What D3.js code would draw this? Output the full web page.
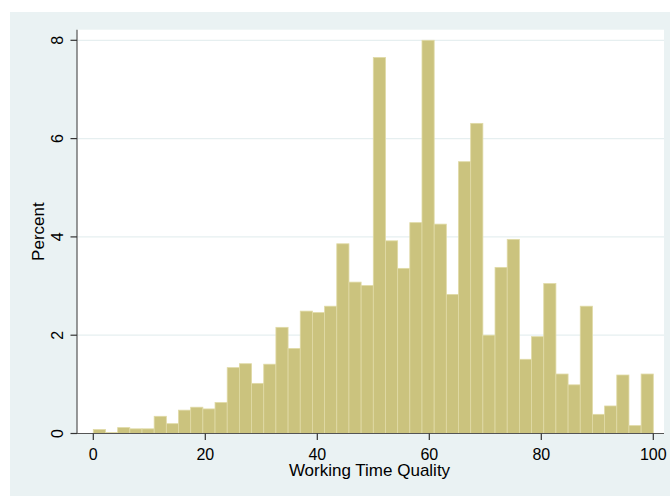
<!DOCTYPE html>
<html>
<head>
<meta charset="utf-8">
<script src="https://cdn.jsdelivr.net/npm/d3@7"></script>
<style>
  html, body { margin: 0; padding: 0; background: #ffffff; }
  svg { display: block; }
  text { font-family: "Liberation Sans", Arial, sans-serif; fill: #000; }
</style>
</head>
<body>
<svg id="chart" width="670" height="496"></svg>
<script>
// Data: percent per bin (46 equal bins from 0 to 100)
const binStart = 0;
const binEnd = 100;
const percents = [
  0.08, 0.02, 0.12, 0.095, 0.095, 0.35, 0.20, 0.475, 0.535, 0.50,
  0.63, 1.34, 1.42, 1.02, 1.41, 2.16, 1.73, 2.49, 2.46, 2.59,
  3.86, 3.08, 3.01, 7.65, 3.92, 3.36, 4.29, 8.0, 4.26, 2.83,
  5.53, 6.31, 2.0, 3.38, 3.95, 1.51, 1.97, 3.05, 1.21, 0.99,
  2.59, 0.39, 0.56, 1.19, 0.16, 1.21
];
const xTicks = [0, 20, 40, 60, 80, 100];
const yTicks = [0, 2, 4, 6, 8];
const xTitle = "Working Time Quality";
const yTitle = "Percent";

const svg = d3.select("#chart");

// outer graph region
svg.append("rect").attr("x", 10).attr("y", 12).attr("width", 660).attr("height", 484)
  .attr("fill", "#eaf2f3");

// plot region
const plot = { left: 77, top: 29.7, right: 664, bottom: 433.5 };
svg.append("rect").attr("x", plot.left).attr("y", plot.top)
  .attr("width", plot.right - plot.left).attr("height", plot.bottom - plot.top)
  .attr("fill", "#ffffff");

const x = d3.scaleLinear().domain([0, 100]).range([93.3, 653.3]);
const y = d3.scaleLinear().domain([0, 8]).range([433.5, 40.3]);

// gridlines
svg.append("g").selectAll("line").data(yTicks.filter(d => d > 0)).join("line")
  .attr("x1", plot.left).attr("x2", plot.right)
  .attr("y1", d => y(d)).attr("y2", d => y(d))
  .attr("stroke", "#e6eff0").attr("stroke-width", 1.2);

// bars
const nb = percents.length;
const bw = (binEnd - binStart) / nb;
const bins = percents.map((v, i) => ({ x0: binStart + i * bw, x1: binStart + (i + 1) * bw, v }));
svg.append("g").selectAll("rect").data(bins).join("rect")
  .attr("x", d => x(d.x0)).attr("width", d => x(d.x1) - x(d.x0))
  .attr("y", d => y(d.v)).attr("height", d => y(0) - y(d.v))
  .attr("fill", "#cbc37e").attr("stroke", "#e0daa6").attr("stroke-width", 0.8);

// x axis
const xAxis = svg.append("g").attr("transform", `translate(0,${plot.bottom})`);
xAxis.append("line").attr("x1", plot.left).attr("x2", plot.right)
  .attr("stroke", "#555").attr("stroke-width", 1.2);
xAxis.call(g => {
  const t = g.selectAll("g.tick").data(xTicks).join("g").attr("class", "tick")
    .attr("transform", d => `translate(${x(d)},0)`);
  t.append("line").attr("y2", 6.5).attr("stroke", "#333").attr("stroke-width", 1.2);
  t.append("text").attr("y", 26.5).attr("text-anchor", "middle").attr("font-size", 16).text(d => d);
});

// y axis
const yAxis = svg.append("g").attr("transform", `translate(${plot.left},0)`);
yAxis.append("line").attr("y1", plot.top).attr("y2", plot.bottom)
  .attr("stroke", "#555").attr("stroke-width", 1.2);
yAxis.call(g => {
  const t = g.selectAll("g.tick").data(yTicks).join("g").attr("class", "tick")
    .attr("transform", d => `translate(0,${y(d)})`);
  t.append("line").attr("x2", -6.5).attr("stroke", "#333").attr("stroke-width", 1.2);
  t.append("text").attr("transform", "translate(-14,0) rotate(-90)")
    .attr("text-anchor", "middle").attr("font-size", 16).text(d => d);
});

// titles
svg.append("text").attr("x", 369.5).attr("y", 476).attr("text-anchor", "middle")
  .attr("font-size", 17).text(xTitle);
svg.append("text").attr("transform", `translate(43.5,${(plot.top + plot.bottom) / 2}) rotate(-90)`)
  .attr("text-anchor", "middle").attr("font-size", 17).text(yTitle);
</script>
</body>
</html>
